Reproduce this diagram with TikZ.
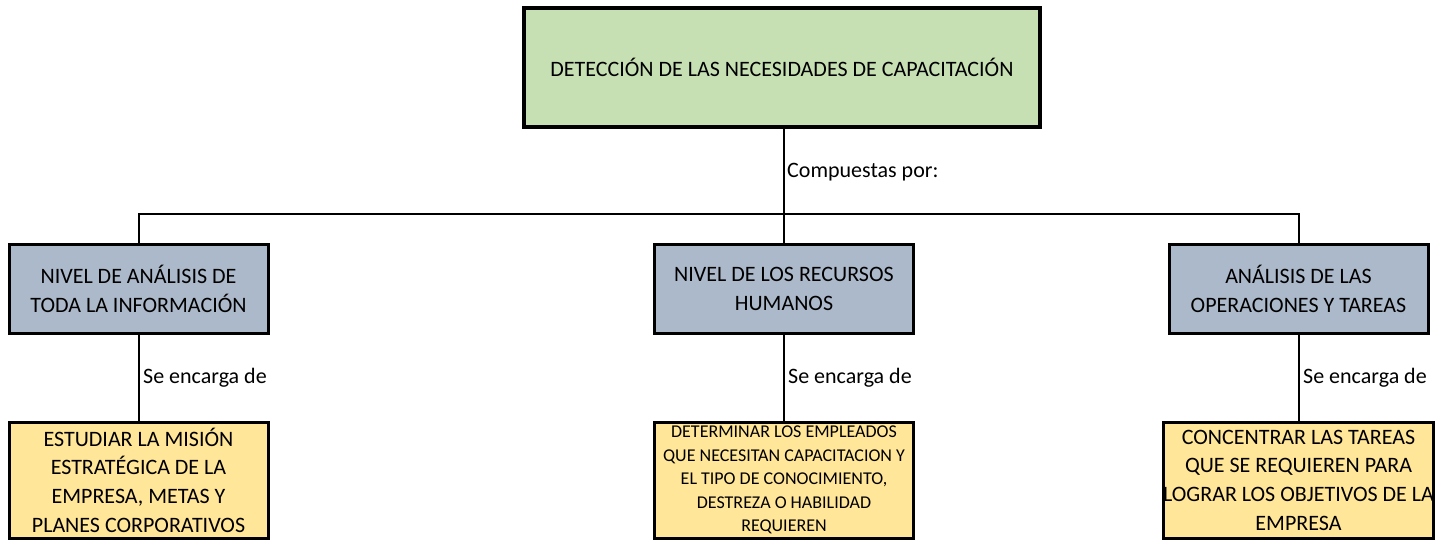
\documentclass[tikz,border=0pt]{standalone}
\usepackage{fontspec}
\setmainfont{Carlito}
\definecolor{topgreen}{HTML}{C6E0B4}
\definecolor{midblue}{HTML}{ACB9CA}
\definecolor{lowyellow}{HTML}{FFE699}
\begin{document}
\begin{tikzpicture}[x=1pt,y=-1pt,
  basebox/.style={draw=black, line width=3.5pt, align=center, inner sep=0pt,
    font=\fontsize{22}{28.7}\selectfont},
  topbox/.style={basebox, fill=topgreen, minimum width=516pt, minimum height=119pt},
  midbox/.style={basebox, fill=midblue, minimum width=259pt, minimum height=88pt, line width=3pt},
  lowbox/.style={basebox, fill=lowyellow, minimum width=259pt, minimum height=116pt, line width=3pt},
  smalltext/.style={font=\fontsize{18}{23.5}\selectfont},
  link/.style={draw=black, line width=2pt},
  lbl/.style={anchor=west, inner sep=0pt, font=\fontsize{22}{26}\selectfont}]
\useasboundingbox (0,0) rectangle (1435,540);
\fill[white] (0,0) rectangle (1435,540);

\node[topbox] (top) at (782,67.5) {DETECCIÓN DE LAS NECESIDADES DE CAPACITACIÓN};

\node[midbox] (m1) at (138.5,289) {NIVEL DE ANÁLISIS DE\\TODA LA INFORMACIÓN};
\node[midbox] (m2) at (784,289) {NIVEL DE LOS RECURSOS\\HUMANOS};
\node[midbox] (m3) at (1298.5,289) {ANÁLISIS DE LAS\\OPERACIONES Y TAREAS};

\node[lowbox] (b1) at (138.5,480) {ESTUDIAR LA MISIÓN\\ESTRATÉGICA DE LA\\EMPRESA, METAS Y\\PLANES CORPORATIVOS};
\node[lowbox, smalltext] (b2) at (784,480) {DETERMINAR LOS EMPLEADOS\\QUE NECESITAN CAPACITACION Y\\EL TIPO DE CONOCIMIENTO,\\DESTREZA O HABILIDAD\\REQUIEREN};
\node[lowbox] (b3) at (1298.5,480) {CONCENTRAR LAS TAREAS\\QUE SE REQUIEREN PARA\\LOGRAR LOS OBJETIVOS DE LA\\EMPRESA};

\coordinate (bar) at (0,214);

\draw[link] (top.south -| m2.north) -- (m2.north);
\draw[link] (m1.north) -- (m1.north |- bar) -- (m3.north |- bar) -- (m3.north);

\draw[link] (m1.south) -- (b1.north);
\draw[link] (m2.south) -- (b2.north);
\draw[link] (m3.south) -- (b3.north);

\node[lbl] (l0) at (787,172) {Compuestas por:};
\node[lbl] (l1) at (143,378) {Se encarga de};
\node[lbl] (l2) at (788,378) {Se encarga de};
\node[lbl] (l3) at (1303,378) {Se encarga de};
\end{tikzpicture}
\end{document}
